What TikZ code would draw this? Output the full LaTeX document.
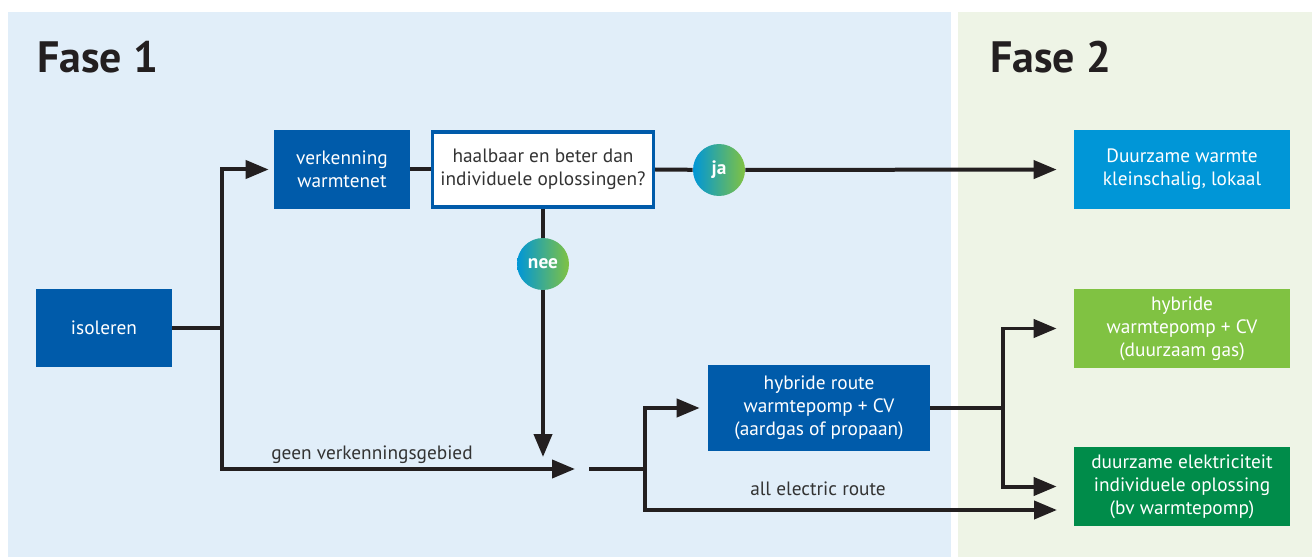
\documentclass[tikz,border=0pt]{standalone}
\usepackage{fontspec}
\setmainfont{PT Sans}
\usetikzlibrary{arrows.meta}
\definecolor{fasebl}{HTML}{E1EEF9}
\definecolor{fasegr}{HTML}{EEF4E6}
\definecolor{donkerblauw}{HTML}{005BAA}
\definecolor{lichtblauw}{HTML}{0096D7}
\definecolor{lichtgroen}{HTML}{80C242}
\definecolor{donkergroen}{HTML}{008C4A}
\definecolor{lijn}{HTML}{231F20}
\definecolor{tekst}{HTML}{333333}

\begin{document}
\begin{tikzpicture}[x=0.02cm,y=-0.02cm,
	vak/.style={rectangle,minimum width=2.72cm,minimum height=1.58cm,align=center,text=white,inner sep=0pt,font=\fontsize{11}{13}\selectfont},
	rond/.style={circle,minimum size=1.04cm,inner sep=0pt,left color=lichtblauw,right color=lichtgroen,text=white,font=\bfseries\fontsize{11}{13}\selectfont},
	lijnstuk/.style={draw=lijn,line width=0.08cm},
	pijl/.style={lijnstuk,-{Triangle[length=0.46cm,width=0.36cm]}},
	fase/.style={anchor=base west,text=lijn,inner sep=0pt,font=\bfseries\fontsize{25}{29}\selectfont},
	bijschrift/.style={anchor=base,text=tekst,inner sep=0pt,font=\fontsize{11}{13}\selectfont}]
	\newcommand{\boxw}{4.32cm}
	\newcommand{\boxh}{1.58cm}
	\useasboundingbox (0,0) rectangle (1312,557);
	\fill[fasebl] (8,12) rectangle (951,557); %fase 1
	\fill[fasegr] (958,12) rectangle (1312,557); %fase 2
	\node[fase] (f1) at (37,73) {Fase 1};
	\node[fase] (f2) at (990,73) {Fase 2};
	% vakken fase 1
	\node[vak,fill=donkerblauw] (iso) at (104,328) {isoleren};
	\node[vak,fill=donkerblauw] (verk) at (342,169.5) {verkenning\\warmtenet};
	\node[vak,fill=white,draw=donkerblauw,line width=0.07cm,text=tekst,minimum width=4.42cm,minimum height=1.5cm] (vraag) at (543,169.5) {haalbaar en beter dan\\individuele oplossingen?};
	\node[vak,fill=donkerblauw,minimum width=4.44cm,minimum height=1.72cm] (route) at (819,408) {hybride route\\warmtepomp + CV\\(aardgas of propaan)};
	% vakken fase 2
	\node[vak,fill=lichtblauw,minimum width=\boxw,minimum height=\boxh] (warmte) at (1182,169.5) {Duurzame warmte\\kleinschalig, lokaal};
	\node[vak,fill=lichtgroen,minimum width=\boxw,minimum height=\boxh] (hwp) at (1182,328.5) {hybride\\warmtepomp + CV\\(duurzaam gas)};
	\node[vak,fill=donkergroen,minimum width=\boxw,minimum height=\boxh] (elek) at (1182,486.5) {duurzame elektriciteit\\individuele oplossing\\(bv warmtepomp)};
	% ja / nee
	\node[rond] (ja) at (719,170) {ja};
	\node[rond] (nee) at (543,264) {nee};
	% bijschriften
	\node[bijschrift] (geen) at (372,459) {geen verkenningsgebied};
	\node[bijschrift] (all) at (818,495) {all electric route};
	% knooppunten
	\coordinate (j1) at (222,328);
	\coordinate (m1) at (543,457);
	\coordinate (m2) at (575,469);
	\coordinate (m3) at (589,469);
	\coordinate (j2) at (645,469);
	\coordinate (t2) at (1057,510);
	\coordinate (j3) at (1003,408);
	% verbindingen
	\draw[lijnstuk] (iso.east) -- (j1);
	\draw[pijl,shorten >=0.1cm] (j1) |- (verk.west);
	\draw[pijl] (j1) |- (m2);
	\draw[lijnstuk] (verk.east) -- (vraag.west);
	\draw[lijnstuk] (vraag.east) -- (ja);
	\draw[pijl,shorten >=0.34cm] (ja) -- (warmte.west);
	\draw[lijnstuk] (vraag.south) -- (nee);
	\draw[pijl] (nee) -- (m1);
	\draw[lijnstuk] (m3) -- (j2);
	\draw[pijl,shorten >=0.16cm] (j2) |- (route.west);
	\draw[pijl] (j2) |- (t2);
	\draw[lijnstuk] (route.east) -- (j3);
	\draw[pijl,shorten >=0.34cm] (j3) |- (hwp.west);
	\draw[pijl,shorten >=0.34cm] (j3) |- (elek.west);
\end{tikzpicture}
\end{document}
